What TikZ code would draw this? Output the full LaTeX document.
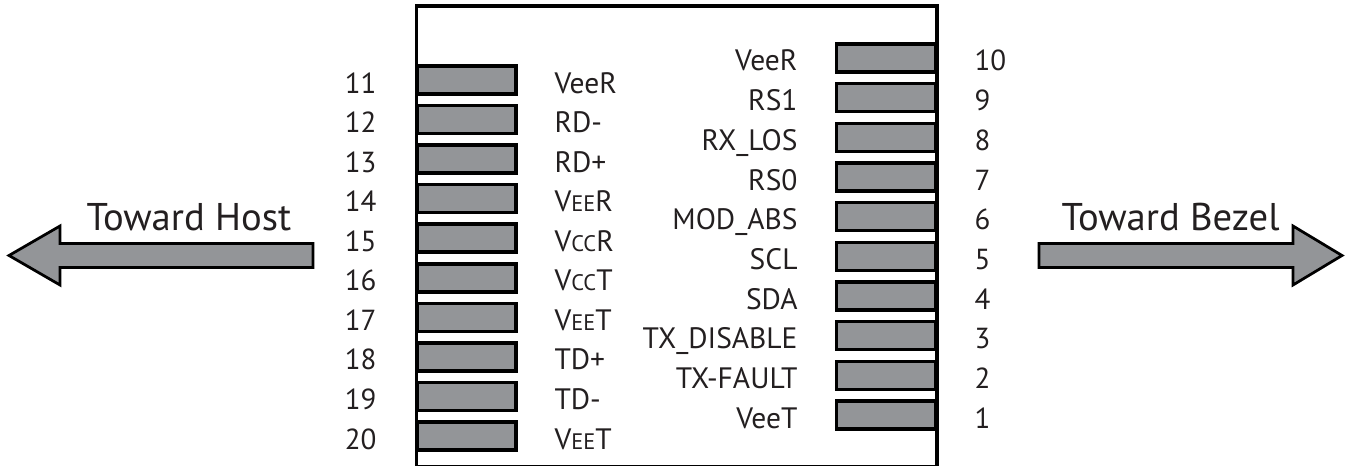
\documentclass[tikz,border=0pt]{standalone}
\usepackage{fontspec}
\setmainfont{PT Sans}
\usepackage{tikz}
\definecolor{ink}{HTML}{231F20}
\definecolor{padgray}{HTML}{939598}
\tikzset{every path/.style={line width=0.06cm}}
\tikzset{
  pad/.style={draw=black,fill=padgray,line width=0.07cm,minimum width=1.98cm,minimum height=0.56cm,inner sep=0pt},
  pinnum/.style={text=ink,font=\fontsize{16.5}{18}\selectfont,inner sep=0pt},
  pinname/.style={text=ink,font=\fontsize{16.8}{18}\selectfont,inner sep=0pt},
  bigtext/.style={text=ink,font=\fontsize{22}{24}\selectfont,inner sep=0pt,anchor=base west},
  bigarrow/.style={draw=black,fill=padgray,line width=0.055cm,line join=miter}
}
\newcommand{\smc}[1]{\scalebox{0.76}{#1}}

\begin{document}
\begin{tikzpicture}[x=0.02cm,y=-0.02cm]
    \useasboundingbox (0,0) rectangle (1348,466);

    % module outline
    \draw[line width=0.065cm] (416.5,6) rectangle (937,467);

    % host side contacts (11..20)
    \begin{scope}[shift={(0,0)}]
      \node[pad] (pad11) at (466.5,80) {};    \node[pinnum,anchor=base east] (num11) at (378,93) {11}; \node[pinname,anchor=base west] (name11) at (553,93) {VeeR};
      \node[pad] (pad12) at (466.5,119.6) {}; \node[pinnum,anchor=base east] (num12) at (378,132.6) {12}; \node[pinname,anchor=base west] (name12) at (553,132.6) {RD-};
      \node[pad] (pad13) at (466.5,159.1) {}; \node[pinnum,anchor=base east] (num13) at (378,172.1) {13}; \node[pinname,anchor=base west] (name13) at (553,172.1) {RD+};
      \node[pad] (pad14) at (466.5,198.7) {}; \node[pinnum,anchor=base east] (num14) at (378,211.7) {14}; \node[pinname,anchor=base west] (name14) at (553,211.7) {V\smc{EE}R};
      \node[pad] (pad15) at (466.5,238.2) {}; \node[pinnum,anchor=base east] (num15) at (378,251.2) {15}; \node[pinname,anchor=base west] (name15) at (553,251.2) {V\smc{CC}R};
      \node[pad] (pad16) at (466.5,277.8) {}; \node[pinnum,anchor=base east] (num16) at (378,290.8) {16}; \node[pinname,anchor=base west] (name16) at (553,290.8) {V\smc{CC}T};
      \node[pad] (pad17) at (466.5,317.4) {}; \node[pinnum,anchor=base east] (num17) at (378,330.4) {17}; \node[pinname,anchor=base west] (name17) at (553,330.4) {V\smc{EE}T};
      \node[pad] (pad18) at (466.5,356.9) {}; \node[pinnum,anchor=base east] (num18) at (378,369.9) {18}; \node[pinname,anchor=base west] (name18) at (553,369.9) {TD+};
      \node[pad] (pad19) at (466.5,396.5) {}; \node[pinnum,anchor=base east] (num19) at (378,409.5) {19}; \node[pinname,anchor=base west] (name19) at (553,409.5) {TD-};
      \node[pad] (pad20) at (466.5,436) {};   \node[pinnum,anchor=base east] (num20) at (378,449) {20}; \node[pinname,anchor=base west] (name20) at (553,449) {V\smc{EE}T};
    \end{scope}

    % bezel side contacts (10..1)
    \begin{scope}[shift={(0,0)}]
      \node[pad] (pad10) at (886,58) {};    \node[pinnum,anchor=base west] (num10) at (973,71) {10}; \node[pinname,anchor=base east] (name10) at (799,71) {VeeR};
      \node[pad] (pad9) at (886,97.7) {};   \node[pinnum,anchor=base west] (num9) at (973,110.7) {9}; \node[pinname,anchor=base east] (name9) at (799,110.7) {RS1};
      \node[pad] (pad8) at (886,137.3) {};  \node[pinnum,anchor=base west] (num8) at (973,150.3) {8}; \node[pinname,anchor=base east] (name8) at (799,150.3) {RX\_LOS};
      \node[pad] (pad7) at (886,177) {};    \node[pinnum,anchor=base west] (num7) at (973,190) {7}; \node[pinname,anchor=base east] (name7) at (799,190) {RS0};
      \node[pad] (pad6) at (886,216.7) {};  \node[pinnum,anchor=base west] (num6) at (973,229.7) {6}; \node[pinname,anchor=base east] (name6) at (799,229.7) {MOD\_ABS};
      \node[pad] (pad5) at (886,256.3) {};  \node[pinnum,anchor=base west] (num5) at (973,269.3) {5}; \node[pinname,anchor=base east] (name5) at (799,269.3) {SCL};
      \node[pad] (pad4) at (886,296) {};    \node[pinnum,anchor=base west] (num4) at (973,309) {4}; \node[pinname,anchor=base east] (name4) at (799,309) {SDA};
      \node[pad] (pad3) at (886,335.7) {};  \node[pinnum,anchor=base west] (num3) at (973,348.7) {3}; \node[pinname,anchor=base east] (name3) at (799,348.7) {TX\_DISABLE};
      \node[pad] (pad2) at (886,375.3) {};  \node[pinnum,anchor=base west] (num2) at (973,388.3) {2}; \node[pinname,anchor=base east] (name2) at (799,388.3) {TX-FAULT};
      \node[pad] (pad1) at (886,415) {};    \node[pinnum,anchor=base west] (num1) at (973,428) {1}; \node[pinname,anchor=base east] (name1) at (799,428) {VeeT};
    \end{scope}

    % direction arrows
    \draw[bigarrow] (9,255.5) -- (60,226) -- (60,243.5) -- (313,243.5) -- (313,267.5) -- (60,267.5) -- (60,285) -- cycle;
    \node[bigtext] (host) at (85,230) {Toward Host};
    \draw[bigarrow] (1342,255.5) -- (1293,226) -- (1293,243.5) -- (1039,243.5) -- (1039,267.5) -- (1293,267.5) -- (1293,285) -- cycle;
    \node[bigtext] (bezel) at (1060,230) {Toward Bezel};
\end{tikzpicture}
\end{document}
